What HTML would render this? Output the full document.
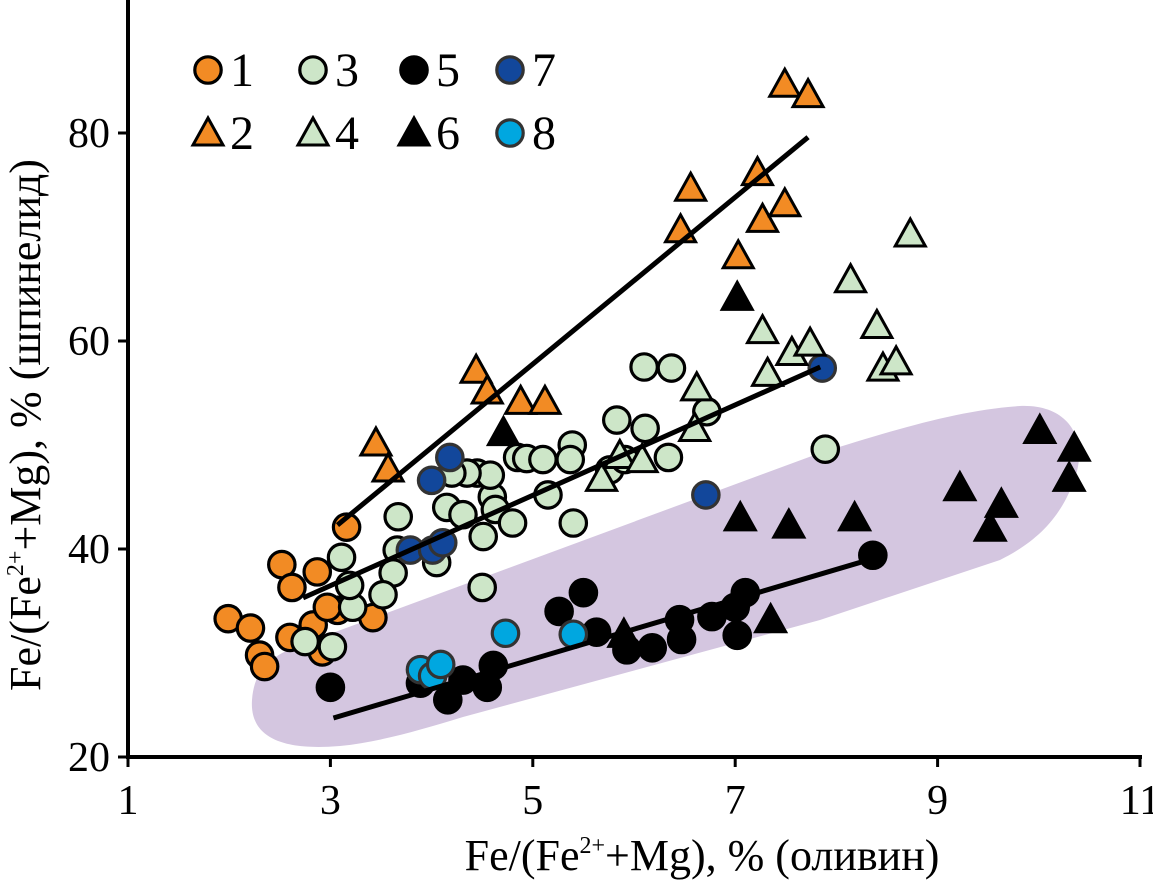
<!DOCTYPE html>
<html><head><meta charset="utf-8">
<style>
html,body{margin:0;padding:0;background:#fff;}
svg{display:block;font-family:"Liberation Serif",serif;}
</style></head>
<body>
<svg id="chart" width="1153" height="882" viewBox="0 0 1153 882" xmlns="http://www.w3.org/2000/svg">
<path fill="#d4c6e0" d="M 340,746 C 270,752 250,730 252,700 C 254,672 268,657 300,645 L 820,453 C 900,428 960,410 1020,406 C 1070,404 1088,440 1075,478 C 1062,515 1040,540 1000,560 L 820,620 L 463,717 C 420,730 380,742 340,746 Z"/>
<g id="lines"></g>
<g id="marks"></g>
<g id="axes"></g>
<g id="legend"></g>
<text transform="translate(40,425) rotate(-90)" text-anchor="middle" font-size="44">Fe/(Fe<tspan font-size="24" dy="-17">2+</tspan><tspan dy="17">+Mg), % (шпинелид)</tspan></text>
<text x="702" y="870" text-anchor="middle" font-size="44">Fe/(Fe<tspan font-size="24" dy="-17">2+</tspan><tspan dy="17">+Mg), % (оливин)</tspan></text>
</svg>
<script>
const xTicks=[1,3,5,7,9,11];
const yTicks=[20,40,60,80];
const s1x=[2.52,2.62,2.87,1.99,2.21,2.30,2.35,2.60,2.83,3.07,3.42,3.16,2.92,2.97];
const s1y=[38.5,36.3,37.8,33.3,32.4,29.8,28.7,31.5,32.7,34.1,33.4,42.1,30.1,34.4];
const s2x=[3.45,3.57,4.44,4.55,4.88,5.12,6.46,6.56,7.03,7.22,7.27,7.49,7.49,7.72];
const s2y=[50,47.5,57,55,54,54,70.5,74.5,68,76,71.5,73,84.5,83.5];
const s3x=[3.11,3.67,4.15,4.31,4.60,4.63,4.80,4.51,5.40,5.15,4.85,4.94,5.10,5.39,5.37,4.45,4.58,4.35,4.20,3.66,3.62,3.52,3.22,3.19,2.75,3.02,4.05,4.50,6.10,6.37,5.83,6.11,5.76,5.91,6.34,6.72,7.89];
const s3y=[39.2,43.1,44.0,43.3,45.0,43.8,42.5,41.2,42.5,45.2,48.8,48.7,48.6,50.0,48.6,47.3,47.1,47.3,47.3,39.9,37.7,35.6,34.4,36.5,31.1,30.6,38.7,36.3,57.5,57.4,52.4,51.6,47.6,48.6,48.8,53.2,49.6];
const s4x=[5.68,5.86,6.08,6.62,6.60,7.27,7.32,7.56,7.74,8.14,8.40,8.46,8.59,8.73];
const s4y=[46.6,48.8,48.4,55.3,51.4,60.8,56.7,58.7,59.6,65.7,61.3,57.2,57.8,70.1];
const s5x=[3.0,4.16,4.31,4.55,4.61,3.89,5.26,5.50,5.63,5.93,6.18,6.45,6.47,6.77,7.10,7.02,7.00,8.36];
const s5y=[26.7,25.5,27.4,26.7,28.8,27.1,34.0,35.8,32.0,30.3,30.5,33.2,31.3,33.5,35.8,31.7,34.4,39.4];
const s6x=[4.71,7.02,7.05,7.53,8.18,7.35,5.9,9.22,9.52,9.63,10.01,10.35,10.30];
const s6y=[51.0,64.0,42.8,42.1,42.8,33.0,31.6,45.7,41.8,44.1,51.2,49.5,46.6];
const s7x=[4.0,4.18,3.79,4.01,4.11,6.71,7.86];
const s7y=[46.6,48.8,39.9,39.9,40.6,45.2,57.4];
const s8x=[3.89,4.01,4.09,4.73,5.40];
const s8y=[28.4,27.8,28.9,31.9,31.8];
const lineX1=[3.07,2.73,3.03];
const lineY1=[42.3,35.3,23.75];
const lineX2=[7.72,7.84,8.30];
const lineY2=[79.6,57.5,38.9];

const NS="http://www.w3.org/2000/svg";
function X(v){return 128+(v-1)*101.2;}
function Y(v){return 757-(v-20)*10.4;}
function mk(tag,attrs,parent){const e=document.createElementNS(NS,tag);for(const k in attrs)e.setAttribute(k,attrs[k]);parent.appendChild(e);return e;}
const marks=document.getElementById('marks');
const lines=document.getElementById('lines');
const axes=document.getElementById('axes');
const legend=document.getElementById('legend');
const styles={
 1:{shape:'c',fill:'#f28b24',stroke:'#000'},
 2:{shape:'t',fill:'#f28b24',stroke:'#000'},
 3:{shape:'c',fill:'#cde6c8',stroke:'#000'},
 4:{shape:'t',fill:'#cde6c8',stroke:'#000'},
 5:{shape:'c',fill:'#000',stroke:'#000'},
 6:{shape:'t',fill:'#000',stroke:'#000'},
 7:{shape:'c',fill:'#12479b',stroke:'#333'},
 8:{shape:'c',fill:'#00a7e0',stroke:'#333'}
};
function marker(parent,st,cx,cy){
 let e;
 if(st.shape==='c'){e=mk('circle',{cx:cx,cy:cy,r:13.2,fill:st.fill,stroke:st.stroke,'stroke-width':3.2},parent);}
 else{e=mk('polygon',{points:`${cx},${cy-17} ${cx-15},${cy+10} ${cx+15},${cy+10}`,fill:st.fill,stroke:st.stroke,'stroke-width':3,'stroke-linejoin':'miter'},parent);}
 return e;
}
const lineNames=['trend-line-orange','trend-line-green','trend-line-black'];
const series=[[1,s1x,s1y],[3,s3x,s3y],[7,s7x,s7y],[5,s5x,s5y],[8,s8x,s8y],[2,s2x,s2y],[4,s4x,s4y],[6,s6x,s6y]];
series.forEach(([id,xs,ys])=>{
 const g=mk('g',{},marks);
 
 
 xs.forEach((xv,i)=>{
  const e=marker(g,styles[id],X(xv),Y(ys[i]));
  
  
 });
});
for(let i=0;i<lineX1.length;i++){
 const l=mk('line',{x1:X(lineX1[i]),y1:Y(lineY1[i]),x2:X(lineX2[i]),y2:Y(lineY2[i]),stroke:'#000','stroke-width':5},lines);
 
 
}
marks.parentNode.insertBefore(marks,lines);
const ya=mk('line',{x1:128,y1:0,x2:128,y2:759,stroke:'#000','stroke-width':4},axes);


const xa=mk('line',{x1:126,y1:757,x2:1142,y2:757,stroke:'#000','stroke-width':4},axes);


xTicks.forEach(t=>{
 const tk=mk('line',{x1:X(t),y1:757,x2:X(t),y2:767,stroke:'#000','stroke-width':3},axes);
 
 
 const tx=mk('text',{x:X(t),y:814,'text-anchor':'middle','font-size':42},axes);
 tx.textContent=t;
 
 
});
yTicks.forEach(t=>{
 const tk=mk('line',{x1:118,y1:Y(t),x2:128,y2:Y(t),stroke:'#000','stroke-width':3},axes);
 
 
 const tx=mk('text',{x:110,y:Y(t)+14,'text-anchor':'end','font-size':42},axes);
 tx.textContent=t;
 
 
});
const legCols=[208,313,414,510];
const legRows=[[1,3,5,7],[2,4,6,8]];
const legY=[70,133];
legRows.forEach((row,r)=>{
 row.forEach((id,c)=>{
  const g=mk('g',{},legend);
  
  
  marker(g,styles[id],legCols[c],legY[r]+(styles[id].shape==='t'?2:0));
  const t=mk('text',{x:legCols[c]+22,y:legY[r]+16,'font-size':48},g);
  t.textContent=id;
 });
});
</script>
</body></html>
